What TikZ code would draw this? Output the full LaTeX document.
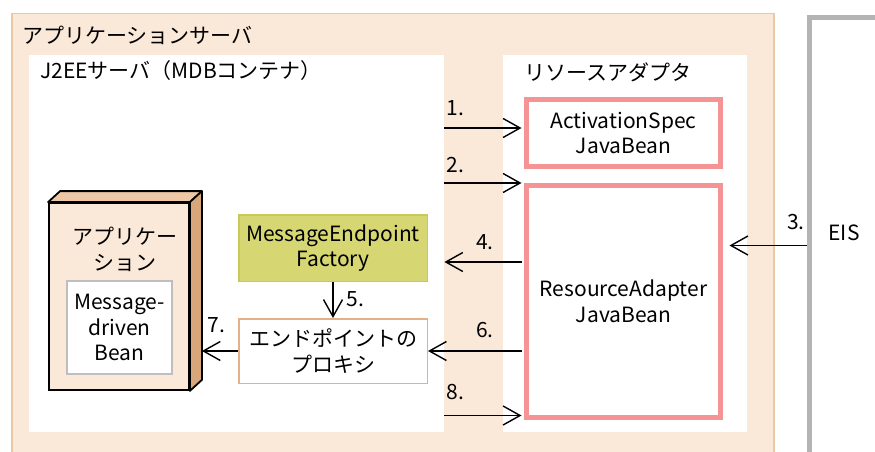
\documentclass[tikz,border=0pt]{standalone}
\usepackage{fontspec}
\setmainfont{Noto Sans CJK JP}
\usetikzlibrary{arrows.meta, positioning}
\definecolor{srvpeach}{RGB}{250, 232, 216}
\definecolor{srvedge}{RGB}{234, 200, 166}
\definecolor{apptop}{RGB}{238, 200, 166}
\definecolor{appside}{RGB}{216, 166, 120}
\definecolor{beanpink}{RGB}{244, 148, 148}
\definecolor{factoryfill}{RGB}{214, 214, 115}
\definecolor{factoryedge}{RGB}{200, 200, 92}
\definecolor{proxyedge}{RGB}{228, 176, 136}
\definecolor{mdbgray}{RGB}{190, 190, 190}
\definecolor{eisgray}{RGB}{180, 180, 180}
\tikzset{
  flow/.style={line width=1.4pt, -{Straight Barb[length=17pt, width=19pt]}},
  bean/.style={draw=beanpink, line width=5pt, fill=white, align=center, inner sep=0},
  plainbox/.style={line width=1.5pt, align=center, inner sep=0},
  lbl/.style={inner sep=0}
}

\begin{document}
\begin{tikzpicture}[x=1pt, y=-1pt, font=\fontsize{21}{25.5}\selectfont]
  \useasboundingbox (0,0) rectangle (875,452);
  \node[draw=srvedge, line width=1.5pt, fill=srvpeach, minimum width=762, minimum height=447, anchor=north west, inner sep=0] (appsrv) at (11,13) {};
  \node[lbl, anchor=west] (appsrvlbl) at (22,35) {アプリケーションサーバ};
  \node[fill=white, minimum width=415, minimum height=377, anchor=north west, inner sep=0] (j2ee) at (29,55) {};
  \node[lbl, anchor=west] (j2eelbl) at (40,71) {J2EEサーバ（MDBコンテナ）};
  \node[fill=white, minimum width=244, minimum height=377, anchor=north west, inner sep=0] (ra) at (503,55) {};
  \node[lbl, anchor=west] (ralbl) at (524,72) {リソースアダプタ};
  \node[bean, minimum width=194, minimum height=67] (aspec) at (623.5,133) {ActivationSpec\\JavaBean};
  \node[bean, minimum width=194, minimum height=232] (rabean) at (623.5,301.5) {ResourceAdapter\\JavaBean};
  \node[draw=eisgray, line width=5pt, fill=white, minimum width=200, minimum height=500, anchor=north west, inner sep=0] (eis) at (806.5,15.5) {};
  \node[lbl] (eislbl) at (844,233) {EIS};

  \node[draw, line width=1.8pt, fill=srvpeach, minimum width=140, minimum height=187, inner sep=0] (app) at (119,296.5) {};
  \draw[line width=1.8pt, fill=apptop, line join=round] (app.north west) -- ([shift={(12,-11)}]app.north west) -- ([shift={(12,-11)}]app.north east) -- (app.north east) -- cycle;
  \draw[line width=1.8pt, fill=appside, line join=round] (app.north east) -- ([shift={(12,-11)}]app.north east) -- ([shift={(12,-11)}]app.south east) -- (app.south east) -- cycle;
  \coordinate (appback) at ([shift={(12,-11)}]app.east);
  \node[lbl, align=center] (applbl) at (125,249.5) {アプリケー\\ション};
  \node[draw=mdbgray, line width=2pt, fill=white, minimum width=105, minimum height=93, align=center, inner sep=0] (mdb) at (119.5,327.5) {Message-\\driven\\Bean};

  \node[plainbox, draw=factoryedge, fill=factoryfill, minimum width=188.5, minimum height=66.5] (factory) at (333,248) {MessageEndpoint\\Factory};
  \node[plainbox, draw=proxyedge, fill=white, minimum width=188.5, minimum height=64.5] (proxy) at (333,351) {エンドポイントの\\プロキシ};

  \coordinate (in1) at ([yshift=5pt]aspec.west);
  \coordinate (out4) at ([yshift=39.5pt]rabean.west);
  \coordinate (in8) at ([yshift=4.5pt]rabean.south west);
  \coordinate (out3) at ([yshift=22.5pt]eis.west);
  \draw[flow, shorten >=2.5pt] (in1 -| j2ee.east) -- (in1);
  \draw[flow, shorten >=2.5pt] (rabean.north west -| j2ee.east) -- (rabean.north west);
  \draw[flow, shorten >=6.5pt] (out3) -- (out3 -| rabean.east);
  \draw[flow, shorten <=2.5pt] (out4) -- (out4 -| j2ee.east);
  \draw[flow] (factory.south) -- (proxy.north);
  \draw[flow, shorten <=2.5pt] (rabean.west |- proxy.east) -- (proxy.east);
  \draw[flow] (proxy.west) -- (proxy.west -| appback);
  \draw[flow, shorten >=2.5pt] (in8 -| j2ee.east) -- (in8);

  \node[lbl] (n1) at (455.5,108) {1.};
  \node[lbl] (n2) at (455.5,165.5) {2.};
  \node[lbl] (n3) at (796,222) {3.};
  \node[lbl] (n4) at (485,242) {4.};
  \node[lbl] (n5) at (355.5,299) {5.};
  \node[lbl] (n6) at (485,330) {6.};
  \node[lbl] (n7) at (216.5,325) {7.};
  \node[lbl] (n8) at (455.5,392.5) {8.};
\end{tikzpicture}
\end{document}
